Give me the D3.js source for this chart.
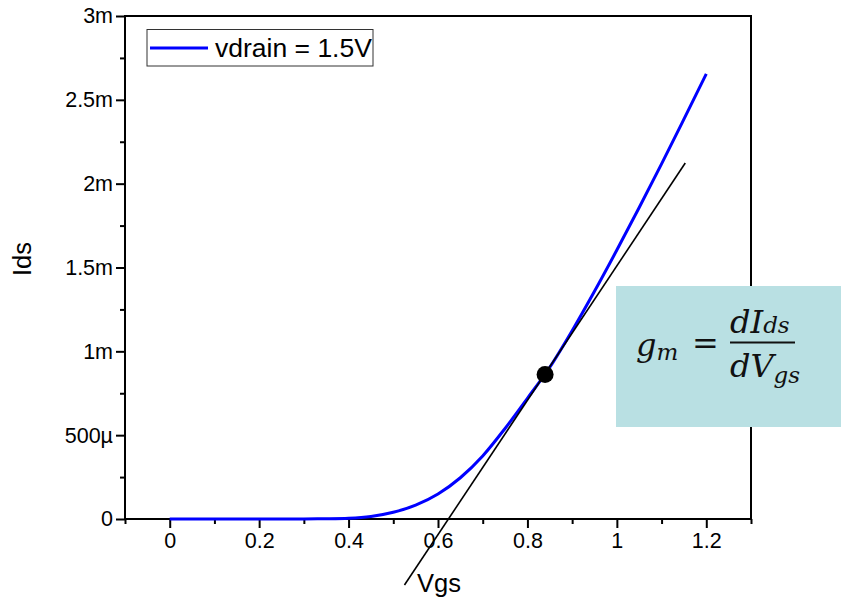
<!DOCTYPE html>
<html>
<head>
<meta charset="utf-8">
<script src="https://cdn.jsdelivr.net/npm/d3@7"></script>
<style>
  body { margin: 0; background: #fff; }
  svg { display: block; font-family: "Liberation Sans", Arial, sans-serif; }
</style>
</head>
<body>
<svg id="chart" width="841" height="603"></svg>
<script>
// Vgs sweep (V) and drain current (A)
var vgs = [0, 0.05, 0.1, 0.15, 0.2, 0.25, 0.3, 0.35, 0.4, 0.45, 0.5, 0.55, 0.6,
           0.65, 0.7, 0.75, 0.8, 0.85, 0.9, 0.95, 1.0, 1.05, 1.1, 1.15, 1.2];
var ids = [0, 0, 0, 0, 0, 0.0000001, 0.0000004, 0.0000014, 0.0000045, 0.000015,
           0.00004, 0.0000825, 0.000149, 0.000246, 0.000376, 0.00054, 0.00072,
           0.000905, 0.001123, 0.001358, 0.001604, 0.001858, 0.002118, 0.002385, 0.002655];

// tangent line at the operating point
var tangentVgs = [0.525, 1.153];
var tangentIds = [-0.000394, 0.002123];
var opPoint = [0.8395, 0.000862];

var xTicks = [0, 0.2, 0.4, 0.6, 0.8, 1, 1.2];
var xMinor = [-0.1, 0.1, 0.3, 0.5, 0.7, 0.9, 1.1, 1.3];
var yTicks = [0, 0.0005, 0.001, 0.0015, 0.002, 0.0025, 0.003];
var yTickLabels = ["0", "500\u00b5", "1m", "1.5m", "2m", "2.5m", "3m"];
var yMinor = [0.00025, 0.00075, 0.00125, 0.00175, 0.00225, 0.00275];

var legendLabel = "vdrain = 1.5V";

var plotL = 125, plotR = 751, plotT = 16, plotB = 519;

var x = d3.scaleLinear().domain([-0.1, 1.3]).range([plotL, plotR]);
var y = d3.scaleLinear().domain([0, 0.003]).range([plotB, plotT]);

var svg = d3.select("#chart");

// axes
var xAxis = svg.append("g")
    .attr("transform", "translate(0," + plotB + ")")
    .call(d3.axisBottom(x).tickValues(xTicks).tickSize(9).tickPadding(5)
          .tickFormat(function(d) { return d3.format("~g")(d); }));
var xAxisMinor = svg.append("g")
    .attr("transform", "translate(0," + plotB + ")")
    .call(d3.axisBottom(x).tickValues(xMinor).tickSize(5).tickFormat(""));
var yAxis = svg.append("g")
    .attr("transform", "translate(" + plotL + ",0)")
    .call(d3.axisLeft(y).tickValues(yTicks).tickSize(9).tickPadding(3)
          .tickFormat(function(d, i) { return yTickLabels[i]; }));
var yAxisMinor = svg.append("g")
    .attr("transform", "translate(" + plotL + ",0)")
    .call(d3.axisLeft(y).tickValues(yMinor).tickSize(5).tickFormat(""));

[xAxis, xAxisMinor, yAxis, yAxisMinor].forEach(function(g) {
  g.select(".domain").remove();
  g.selectAll("line").attr("stroke", "#000").attr("stroke-width", 2);
  g.selectAll("text").attr("fill", "#000").style("font-size", "21.5px")
    .style("font-family", "'Liberation Sans', Arial, sans-serif");
});

// frame
svg.append("rect")
    .attr("x", plotL).attr("y", plotT)
    .attr("width", plotR - plotL).attr("height", plotB - plotT)
    .attr("fill", "none").attr("stroke", "#000").attr("stroke-width", 2);

// axis titles
svg.append("text")
    .attr("x", 439).attr("y", 592)
    .attr("text-anchor", "middle")
    .style("font-size", "25.5px")
    .text("Vgs");
svg.append("text")
    .attr("transform", "translate(31,259) rotate(-90)")
    .attr("text-anchor", "middle")
    .style("font-size", "25.5px")
    .text("Ids");

// curve
var pts = vgs.map(function(v, i) { return [v, ids[i]]; });
svg.append("path")
    .datum(pts)
    .attr("fill", "none")
    .attr("stroke", "#0000ff")
    .attr("stroke-width", 3)
    .attr("d", d3.line()
      .x(function(d) { return x(d[0]); })
      .y(function(d) { return y(d[1]); })
      .curve(d3.curveMonotoneX));

// tangent
svg.append("line")
    .attr("x1", x(tangentVgs[0])).attr("y1", y(tangentIds[0]))
    .attr("x2", x(tangentVgs[1])).attr("y2", y(tangentIds[1]))
    .attr("stroke", "#000").attr("stroke-width", 1.6);

svg.append("circle")
    .attr("cx", x(opPoint[0])).attr("cy", y(opPoint[1]))
    .attr("r", 8.5).attr("fill", "#000");

// legend
var legend = svg.append("g");
legend.append("rect")
    .attr("x", 147).attr("y", 29.5).attr("width", 226).attr("height", 36.5)
    .attr("fill", "#fff").attr("stroke", "#333").attr("stroke-width", 1);
legend.append("line")
    .attr("x1", 150).attr("x2", 208).attr("y1", 48).attr("y2", 48)
    .attr("stroke", "#0000ff").attr("stroke-width", 3);
legend.append("text")
    .attr("x", 215).attr("y", 57)
    .style("font-size", "26.5px")
    .text(legendLabel);

// gm equation box
var eq = svg.append("g");
eq.append("rect")
    .attr("x", 616).attr("y", 286).attr("width", 225).attr("height", 141)
    .attr("fill", "#b9e0e3");
var serif = "'DejaVu Serif', 'Liberation Serif', serif";
var gm = eq.append("text")
    .attr("x", 636).attr("y", 356)
    .style("font-family", serif).style("font-style", "italic")
    .style("font-size", "32px").attr("fill", "#111");
gm.append("tspan").text("g");
gm.append("tspan").attr("dy", 4).style("font-size", "23px").text("m");
eq.append("text")
    .attr("x", 692).attr("y", 354)
    .style("font-family", serif).style("font-size", "32px").attr("fill", "#111")
    .text("=");
eq.append("line")
    .attr("x1", 730).attr("x2", 795).attr("y1", 342.5).attr("y2", 342.5)
    .attr("stroke", "#111").attr("stroke-width", 1.8);
var num = eq.append("text")
    .attr("x", 730).attr("y", 333)
    .style("font-family", serif).style("font-style", "italic")
    .style("font-size", "32px").attr("fill", "#111");
num.append("tspan").text("dI");
num.append("tspan").style("font-size", "23px").text("ds");
var den = eq.append("text")
    .attr("x", 730).attr("y", 377)
    .style("font-family", serif).style("font-style", "italic")
    .style("font-size", "32px").attr("fill", "#111");
den.append("tspan").text("dV");
den.append("tspan").attr("dy", 6).style("font-size", "23px").text("gs");
</script>
</body>
</html>
